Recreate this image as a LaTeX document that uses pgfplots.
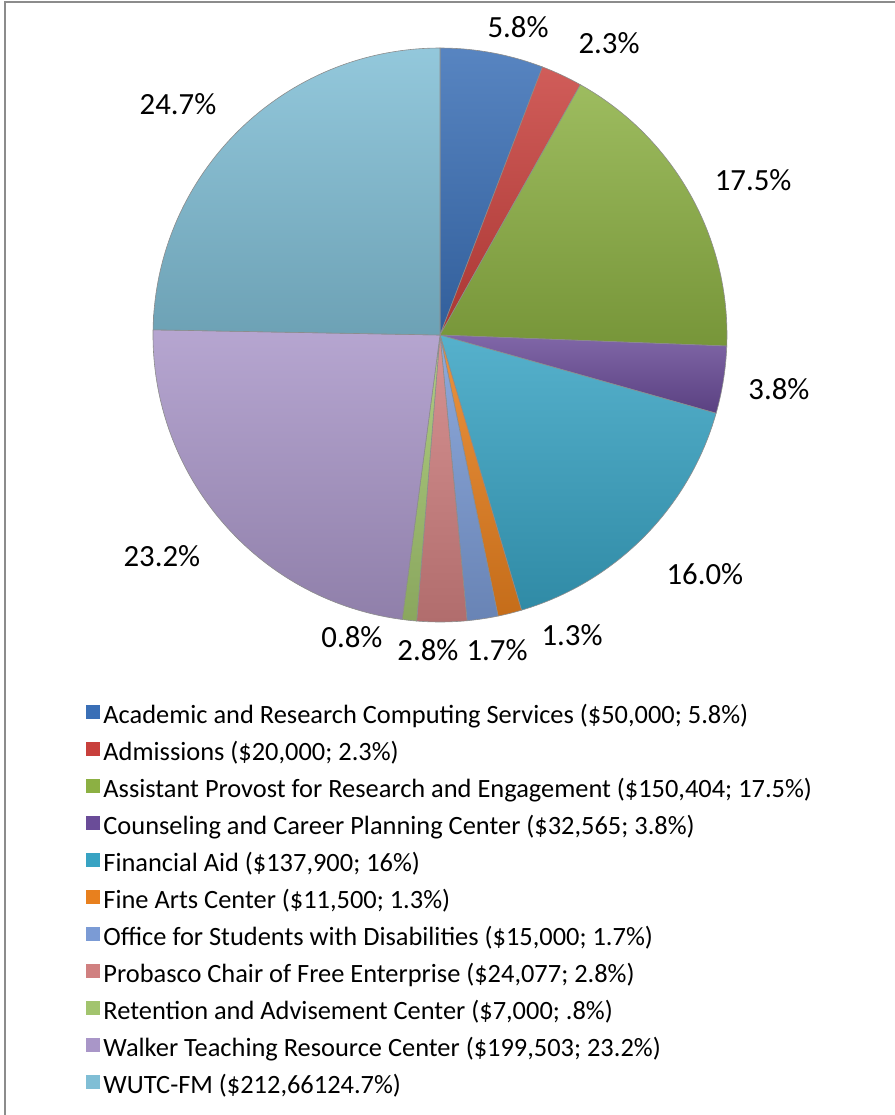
\documentclass[border=0pt]{standalone}
\usepackage{fontspec}
\setmainfont{Carlito}
\usepackage{pgfplots}
\usepackage{pgfplotstable}
\pgfplotsset{compat=1.18}

\definecolor{pc0}{HTML}{3A6FB6}
\definecolor{pc1}{HTML}{C8403C}
\definecolor{pc2}{HTML}{8CB043}
\definecolor{pc3}{HTML}{6A4C98}
\definecolor{pc4}{HTML}{38A3C3}
\definecolor{pc5}{HTML}{E8801E}
\definecolor{pc6}{HTML}{7B9BD5}
\definecolor{pc7}{HTML}{D08080}
\definecolor{pc8}{HTML}{A2C46E}
\definecolor{pc9}{HTML}{A996C8}
\definecolor{pc10}{HTML}{80BED5}

% Budget in dollars, in legend order (clockwise from 12 o'clock)
\pgfplotstableread{
value
50000
20000
150404
32565
137900
11500
15000
24077
7000
199503
212661
}\piedata

\pgfkeys{/pgf/fpu=true,/pgf/fpu/output format=fixed}%
\gdef\total{0}%
\pgfplotsforeachungrouped \i in {0,1,2,3,4,5,6,7,8,9,10}{%
  \pgfplotstablegetelem{\i}{value}\of\piedata
  \pgfmathparse{\total+\pgfplotsretval}\xdef\total{\pgfmathresult}}%
\gdef\cum{0}%
\pgfplotsforeachungrouped \i in {0,1,2,3,4,5,6,7,8,9,10}{%
  \pgfplotstablegetelem{\i}{value}\of\piedata
  \pgfmathparse{90-360*\cum/\total}\expandafter\xdef\csname sa\i\endcsname{\pgfmathresult}%
  \pgfmathparse{\cum+\pgfplotsretval}\xdef\cum{\pgfmathresult}%
  \pgfmathparse{90-360*\cum/\total}\expandafter\xdef\csname ea\i\endcsname{\pgfmathresult}}%
\pgfkeys{/pgf/fpu=false}%

\begin{document}
\begin{tikzpicture}
\useasboundingbox (0,0) rectangle (447.5pt,-557.5pt);
\draw[black!45, line width=1pt] (2.5pt,-600pt) -- (2.5pt,-1pt) -- (500pt,-1pt);
\begin{axis}[
  at={(220pt,-167.5pt)}, anchor=center,
  x=143.5pt, y=143.5pt,
  xmin=-1, xmax=1, ymin=-1, ymax=1,
  hide axis, clip=false,
  legend image code/.code={\path[#1, draw=none] (0pt,-1.2pt) rectangle (7pt,5.8pt);},
  legend cell align=left,
  legend style={at={(axis cs:-1.2334,-1.2648)}, anchor=north west,
    draw=none, fill=none, inner sep=0pt,
    font=\fontsize{13.2}{15}\selectfont,
    nodes={inner sep=0pt, inner xsep=1.5pt, text height=12.5pt, text depth=6pt}},
]
\pgfplotsinvokeforeach{0,1,2,3,4,5,6,7,8,9,10}{
  \path[top color=pc#1!85!white, bottom color=pc#1!85!black]
    (axis cs:0,0) -- (axis cs:{cos(\csname sa#1\endcsname)},{sin(\csname sa#1\endcsname)})
    arc[start angle=\csname sa#1\endcsname, end angle=\csname ea#1\endcsname, radius=143.5pt] -- cycle;
  \path[draw=black!45, line width=0.3pt]
    (axis cs:0,0) -- (axis cs:{cos(\csname sa#1\endcsname)},{sin(\csname sa#1\endcsname)})
    arc[start angle=\csname sa#1\endcsname, end angle=\csname ea#1\endcsname, radius=143.5pt] -- cycle;
}
\begin{scope}[every node/.style={font=\fontsize{15.4}{18}\selectfont}]
\node at (axis cs:0.272,1.073) {5.8\%};
\node at (axis cs:0.589,1.017) {2.3\%};
\node at (axis cs:1.091,0.540) {17.5\%};
\node at (axis cs:1.181,-0.188) {3.8\%};
\node at (axis cs:0.923,-0.833) {16.0\%};
\node at (axis cs:0.460,-1.045) {1.3\%};
\node at (axis cs:0.199,-1.098) {1.7\%};
\node at (axis cs:-0.042,-1.098) {2.8\%};
\node at (axis cs:-0.307,-1.052) {0.8\%};
\node at (axis cs:-0.969,-0.770) {23.2\%};
\node at (axis cs:-0.913,0.805) {24.7\%};
\end{scope}
\addlegendimage{fill=pc0}\addlegendentry{Academic and Research Computing Services (\$50,000; 5.8\%)}
\addlegendimage{fill=pc1}\addlegendentry{Admissions (\$20,000; 2.3\%)}
\addlegendimage{fill=pc2}\addlegendentry{Assistant Provost for Research and Engagement (\$150,404; 17.5\%)}
\addlegendimage{fill=pc3}\addlegendentry{Counseling and Career Planning Center (\$32,565; 3.8\%)}
\addlegendimage{fill=pc4}\addlegendentry{Financial Aid (\$137,900; 16\%)}
\addlegendimage{fill=pc5}\addlegendentry{Fine Arts Center (\$11,500; 1.3\%)}
\addlegendimage{fill=pc6}\addlegendentry{Office for Students with Disabilities (\$15,000; 1.7\%)}
\addlegendimage{fill=pc7}\addlegendentry{Probasco Chair of Free Enterprise (\$24,077; 2.8\%)}
\addlegendimage{fill=pc8}\addlegendentry{Retention and Advisement Center (\$7,000; .8\%)}
\addlegendimage{fill=pc9}\addlegendentry{Walker Teaching Resource Center (\$199,503; 23.2\%)}
\addlegendimage{fill=pc10}\addlegendentry{WUTC-FM (\$212,66124.7\%)}
\end{axis}
\end{tikzpicture}
\end{document}
